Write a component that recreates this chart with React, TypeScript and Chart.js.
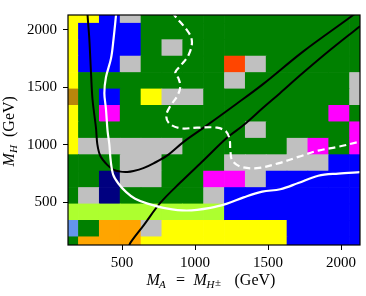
import React, { useEffect, useRef } from "react";
import { Chart, registerables } from "chart.js";

Chart.register(...registerables);

// Grid of mass points (cell centres, GeV)
const massCenters = [130, 272.86, 415.71, 558.57, 701.43, 844.29, 987.14, 1130, 1272.86, 1415.71, 1558.57, 1701.43, 1844.29, 1987.14, 2130];
// Row edges along M_H (GeV)
const rowEdges = [58.57, 201.43, 344.29, 487.14, 630, 772.86, 915.71, 1058.57, 1201.43, 1344.29, 1487.14, 1630, 1772.86, 1915.71, 2058.57, 2201.43];

// Cell categories, top row (M_H = 2130) first, columns M_A = 130 ... 2130
const cellRows = [
  "YYBSGGGGGGGGGGG",
  "YBBBGGGGGGGGGGG",
  "YBBBGSGGGGGGGGG",
  "YBBSGGGGRSGGGGG",
  "YGGGGGGGSGGGGGS",
  "DGBGYSSGGGGGGGS",
  "YGMGGGGGGGGGGMG",
  "YGGGGGGGGSGGGGM",
  "YSSSSSGGGGGSMGM",
  "GGGSSGGGSSSSSBB",
  "GGNSSGGMMSBBBBB",
  "GSNGGGGSBBBBBBB",
  "LLLLLLLLBBBBBBB",
  "CGOOSYYYYYYBBBB",
  "GOOOYYYYYYYBBBB",
];

const palette: Record<string, string> = {
  G: "#008000",
  Y: "#ffff00",
  B: "#0000ff",
  S: "#c0c0c0",
  M: "#ff00ff",
  N: "#000080",
  R: "#ff4500",
  O: "#ffa500",
  L: "#adff2f",
  C: "#6495ed",
  D: "#b8860b",
};

const xTickValues = [500, 1000, 1500, 2000];
const yTickValues = [500, 1000, 1500, 2000];

// Curves [M_A, M_H]
const blackUpper: [number, number][] = [
  [265, 2160], [264, 2130], [276, 1922], [288, 1616], [298, 1395], [322, 1145], [331, 1005], [351, 906],
  [397, 829], [440, 786], [488, 768], [536, 765], [579, 773], [646, 798], [716, 840], [808, 907],
  [922, 1027], [1057, 1148], [1283, 1356], [1468, 1531], [1742, 1814], [2084, 2130], [2110, 2160],
];
const blackLower: [number, number][] = [
  [545, 110], [557, 149], [648, 301], [762, 496], [899, 673], [1059, 867], [1219, 1062], [1333, 1173],
  [1468, 1325], [1582, 1450], [1728, 1614], [1925, 1825], [2130, 2033], [2160, 2065],
];
const whiteSolid: [number, number][] = [
  [461, 2160], [459, 2130], [442, 1922], [425, 1755], [390, 1588], [379, 1450], [390, 1312], [401, 1123],
  [413, 1006], [423, 857], [440, 740], [475, 665], [529, 590], [590, 532], [675, 490], [803, 449],
  [945, 430], [1105, 453], [1219, 490], [1333, 544], [1461, 594], [1584, 615], [1707, 669], [1844, 732],
  [1981, 751], [2130, 763], [2160, 765],
];
const whiteDashed: [number, number][] = [
  [845, 2160], [858, 2130], [956, 1978], [979, 1894], [956, 1783], [899, 1686], [865, 1630], [888, 1575],
  [899, 1505], [877, 1422], [831, 1339], [803, 1255], [824, 1187], [899, 1145], [1014, 1150], [1151, 1150],
  [1214, 1115], [1237, 1048], [1242, 951], [1255, 865], [1310, 812], [1424, 798], [1570, 840], [1707, 896],
  [1844, 951], [1981, 984], [2130, 1029], [2160, 1036],
];

const SERIF = '"Liberation Serif", "DejaVu Serif", serif';

const framePlugin = {
  id: "frameAndTitles",
  afterDraw(chart: any) {
    const { ctx, chartArea } = chart;
    const { left, right, top, bottom } = chartArea;
    ctx.save();
    ctx.strokeStyle = "#000";
    ctx.lineWidth = 1.2;
    ctx.strokeRect(left, top, right - left, bottom - top);

    ctx.fillStyle = "#000";
    ctx.textBaseline = "alphabetic";
    ctx.textAlign = "left";
    // x title: M_A = M_{H±} (GeV)
    const cx = (left + right) / 2;
    const sx = cx - 67.5;
    const by = 284.5;
    ctx.font = `italic 16px ${SERIF}`;
    ctx.fillText("M", sx, by);
    ctx.font = `italic 11px ${SERIF}`;
    ctx.fillText("A", sx + 12.5, by + 3);
    ctx.font = `16px ${SERIF}`;
    ctx.fillText("=", sx + 29.5, by);
    ctx.font = `italic 16px ${SERIF}`;
    ctx.fillText("M", sx + 47, by);
    ctx.font = `italic 11px ${SERIF}`;
    ctx.fillText("H", sx + 60, by + 3);
    const hw = ctx.measureText("H").width;
    ctx.font = `11px ${SERIF}`;
    ctx.fillText("±", sx + 60 + hw + 0.5, by + 1);
    ctx.font = `16px ${SERIF}`;
    ctx.fillText("(GeV)", sx + 88, by);

    // y title: M_H (GeV)
    ctx.translate(14, (top + bottom) / 2 + 36.5);
    ctx.rotate(-Math.PI / 2);
    ctx.font = `italic 16px ${SERIF}`;
    ctx.fillText("M", 0, 0);
    ctx.font = `italic 11px ${SERIF}`;
    ctx.fillText("H", 13.5, 3);
    ctx.font = `16px ${SERIF}`;
    ctx.fillText("(GeV)", 29.5, 0);
    ctx.restore();
  },
};

export default function App() {
  const ref = useRef<HTMLCanvasElement | null>(null);

  useEffect(() => {
    if (!ref.current) return;
    const nRows = cellRows.length;
    const barSets = cellRows.map((_, j) => {
      const row = cellRows[nRows - 1 - j];
      return {
        type: "bar" as const,
        data: massCenters.map((x) => ({ x, y: [rowEdges[j], rowEdges[j + 1]] })),
        backgroundColor: massCenters.map((_, i) => palette[row[i]]),
        borderWidth: 0,
        grouped: false,
        barPercentage: 1,
        categoryPercentage: 1,
        order: 5,
        clip: 0,
      };
    });
    const line = (pts: [number, number][], color: string, width: number, dash: number[] = []) => ({
      type: "line" as const,
      data: pts.map(([x, y]) => ({ x, y })),
      borderColor: color,
      borderWidth: width,
      borderDash: dash,
      pointRadius: 0,
      tension: 0.35,
      fill: false,
      order: 1,
      clip: 0,
    });

    const tickFont = { family: SERIF, size: 15 };
    const plain = (v: any) => String(v);
    const chart = new Chart(ref.current, {
      type: "bar",
      data: {
        datasets: [
          ...barSets,
          line(whiteSolid, "#ffffff", 2.2),
          line(whiteDashed, "#ffffff", 2.2, [7, 4]),
          line(blackUpper, "#000000", 2),
          line(blackLower, "#000000", 2),
        ] as any,
      },
      options: {
        animation: false,
        responsive: false,
        events: [],
        layout: { padding: { top: 5, right: 6, left: 0, bottom: 0 } },
        plugins: { legend: { display: false }, tooltip: { enabled: false } },
        scales: {
          x: {
            type: "linear",
            min: 130,
            max: 2130,
            offset: false,
            grid: { display: true, drawOnChartArea: false, drawTicks: true, tickLength: 5, color: "#000", offset: false },
            border: { display: false },
            ticks: { color: "#000", font: tickFont, padding: 4, maxRotation: 0, autoSkip: false, includeBounds: false, callback: plain },
            afterBuildTicks: (s: any) => {
              s.ticks = xTickValues.map((v) => ({ value: v }));
            },
            afterFit: (s: any) => {
              s.height = 51;
            },
          },
          y: {
            type: "linear",
            min: 130,
            max: 2130,
            grid: { display: true, drawOnChartArea: false, drawTicks: true, tickLength: 5, color: "#000" },
            border: { display: false },
            ticks: { color: "#000", font: tickFont, padding: 6, autoSkip: false, includeBounds: false, callback: plain },
            afterBuildTicks: (s: any) => {
              s.ticks = yTickValues.map((v) => ({ value: v }));
            },
            afterFit: (s: any) => {
              s.width = 68;
            },
          },
        },
      } as any,
      plugins: [framePlugin],
    });
    return () => chart.destroy();
  }, []);

  return (
    <div style={{ position: "absolute", left: 0, top: 0, width: 366, height: 296, background: "#fff" }}>
      <canvas ref={ref} width={366} height={296} style={{ display: "block" }} />
    </div>
  );
}
